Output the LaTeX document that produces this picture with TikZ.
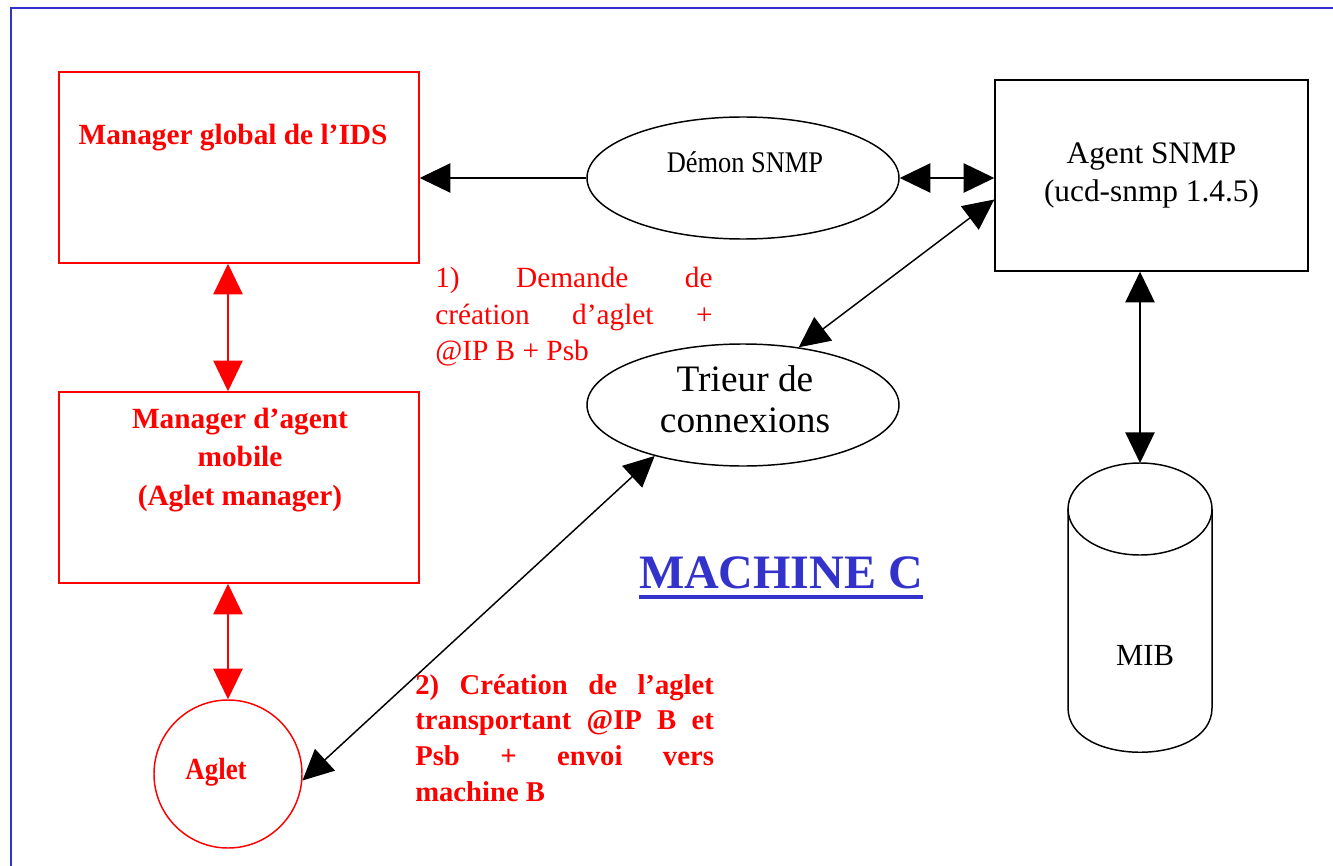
\documentclass[tikz,border=0pt]{standalone}
\usepackage{fontspec}
\setmainfont{Liberation Serif}
\newfontfamily\narrowserif[FakeStretch=0.88]{Liberation Serif}
\usetikzlibrary{arrows.meta,calc,positioning,shapes.geometric}
\definecolor{slideblue}{RGB}{51,51,204}

\tikzset{
  redbox/.style={draw=red, line width=1.1pt, minimum width=270pt, minimum height=143.25pt, inner sep=0pt},
  blkbox/.style={draw, line width=1.1pt, minimum width=234.75pt, minimum height=143.25pt, align=center},
  oval/.style={draw, ellipse, line width=1.1pt, minimum width=234pt, minimum height=91.5pt, inner sep=0pt},
  redtext/.style={text=red, font=\fontsize{22}{29}\selectfont\bfseries, align=center},
  link/.style={line width=1.1pt, {Triangle[width=22pt,length=23pt]}-{Triangle[width=22pt,length=23pt]}},
  onelink/.style={line width=1.1pt, -{Triangle[width=22pt,length=23pt]}},
}

\begin{document}
\begin{tikzpicture}[x=0.75pt, y=-0.75pt]
\useasboundingbox (0,0) rectangle (1333,866);

% slide frame
\draw[slideblue, line width=1.5pt] (1340,8) -- (11,8) -- (11,870);

% left column
\node[redbox] (ids) at (239,167.5) {};
\node[redtext] (idstxt) at (233,138) {Manager global de l’IDS};
\node[redbox] (mgr) at (239,487.5) {};
\node[redtext] (mgrtxt) at (240,460) {Manager d’agent\\ mobile\\ (Aglet manager)};
\node[draw=red, circle, line width=1.1pt, minimum size=111pt, inner sep=0pt] (aglet) at (228,774) {};
\node[redtext, font=\fontsize{23}{29}\narrowserif\bfseries] (aglettxt) at (216,772) {Aglet};

% middle
\node[oval] (demon) at (743,178) {};
\node[font=\fontsize{22.5}{26}\narrowserif] (demontxt) at (745,162) {Démon SNMP};
\node[oval] (trieur) at (743,405) {};
\node[font=\fontsize{28}{30.75}\selectfont, align=center] (trieurtxt) at (745,399) {Trieur de\\connexions};

% right column
\node[blkbox, font=\fontsize{23.5}{28.5}\selectfont] (agent) at (1151.5,175.5) {Agent SNMP\\(ucd-snmp 1.4.5)};
\draw[line width=1.1pt] (1140,509) ellipse [x radius=54pt, y radius=34.5pt];
\draw[line width=1.1pt] (1068,509) -- (1068,708) .. controls (1068,767) and (1212,767) .. (1212,708) -- (1212,509);
\coordinate (mibtop) at (1140,463);
\node[font=\fontsize{23}{27}\selectfont] (mib) at (1145,655) {MIB};

% arrows
\draw[onelink] (demon.west) -- (demon.west -| ids.east);
\draw[link] (demon.east) -- (demon.east -| agent.west);
\draw[link] ($(agent.west)+(0,24)$) -- (trieur.46);
\draw[link] (trieur.210) -- (aglet.-5);
\draw[link] (mibtop |- agent.south) -- (mibtop);
\draw[link, red] (aglet.north |- ids.south) -- (aglet.north |- mgr.north);
\draw[link, red] (aglet.north |- mgr.south) -- (aglet.north);

% step texts
\node[anchor=north west, inner sep=0pt, text=red, font=\fontsize{22}{27.4}\selectfont, align=left] (demande) at (435,267)
  {\makebox[208pt][s]{1) Demande de}\\ \makebox[208pt][s]{création d’aglet +}\\ @IP B + Psb};
\node[anchor=north west, inner sep=0pt, text=red, font=\fontsize{21.5}{26.8}\selectfont\bfseries, align=left] (envoi) at (415,674)
  {\makebox[224pt][s]{2) Création de l’aglet}\\ \makebox[224pt][s]{transportant @IP B et}\\ \makebox[224pt][s]{Psb + envoi vers}\\ machine B};

\node[text=slideblue, font=\fontsize{36}{40}\selectfont\bfseries, inner sep=0pt, anchor=base] (machc) at (781,588) {MACHINE C};
\draw[slideblue, line width=3pt] ($(machc.base west)+(0,9)$) -- ($(machc.base east)+(0,9)$);

\end{tikzpicture}
\end{document}
